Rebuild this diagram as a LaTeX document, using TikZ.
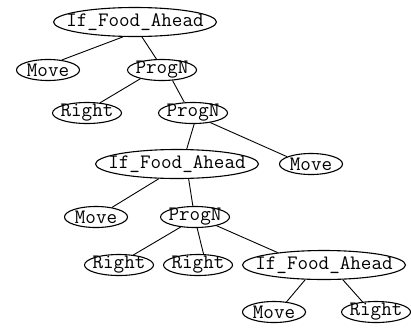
\documentclass[tikz,border=0pt]{standalone}
\usetikzlibrary{shapes.geometric}

\tikzset{
  treenode/.style={ellipse, draw=black, line width=1.1pt,
    inner xsep=-24pt, inner ysep=-7pt,
    font=\ttfamily\fontsize{20.5}{21}\selectfont, text=black},
  bignode/.style={treenode, minimum width=163pt, minimum height=29pt},
  movenode/.style={treenode, minimum width=63pt, minimum height=21pt},
  fivenode/.style={treenode, minimum width=69pt, minimum height=21pt},
  branch/.style={draw=black, line width=0.9pt},
}

\begin{document}
\begin{tikzpicture}[x=1pt, y=-1pt]
  \useasboundingbox (0,0) rectangle (411,327);

  % nodes, top to bottom
  \node[bignode]  (root) at (135,22)  {If\_Food\_Ahead};
  \node[movenode] (m1)   at (48,70)   {Move};
  \node[fivenode] (p1)   at (162,70)  {ProgN};
  \node[fivenode] (r2)   at (87,113)  {Right};
  \node[fivenode] (p2)   at (193,113) {ProgN};
  \node[bignode]  (i3)   at (177,164) {If\_Food\_Ahead};
  \node[movenode] (m3)   at (311,164) {Move};
  \node[movenode] (m4)   at (96,217)  {Move};
  \node[fivenode] (p4)   at (195,217) {ProgN};
  \node[fivenode] (r5a)  at (119,265) {Right};
  \node[fivenode] (r5b)  at (198,265) {Right};
  \node[bignode]  (i5)   at (324,265) {If\_Food\_Ahead};
  \node[movenode] (m6)   at (274,312) {Move};
  \node[fivenode] (r6)   at (376,312) {Right};

  % branches
  \draw[branch] (root.231) -- (m1.36);
  \draw[branch] (root.295) -- (p1.117);
  \draw[branch] (p1.202)   -- (r2.38);
  \draw[branch] (p1.315)   -- (p2.129);
  \draw[branch] (p2.276)   -- (i3.57);
  \draw[branch] (p2.331)   -- (m3.163);
  \draw[branch] (i3.219)   -- (m4.31);
  \draw[branch] (i3.308)   -- (p4.101);
  \draw[branch] (p4.215)   -- (r5a.35);
  \draw[branch] (p4.281)   -- (r5b.63);
  \draw[branch] (p4.338)   -- (i5.165);
  \draw[branch] (i5.218)   -- (m6.39);
  \draw[branch] (i5.322)   -- (r6.143);
\end{tikzpicture}
\end{document}
